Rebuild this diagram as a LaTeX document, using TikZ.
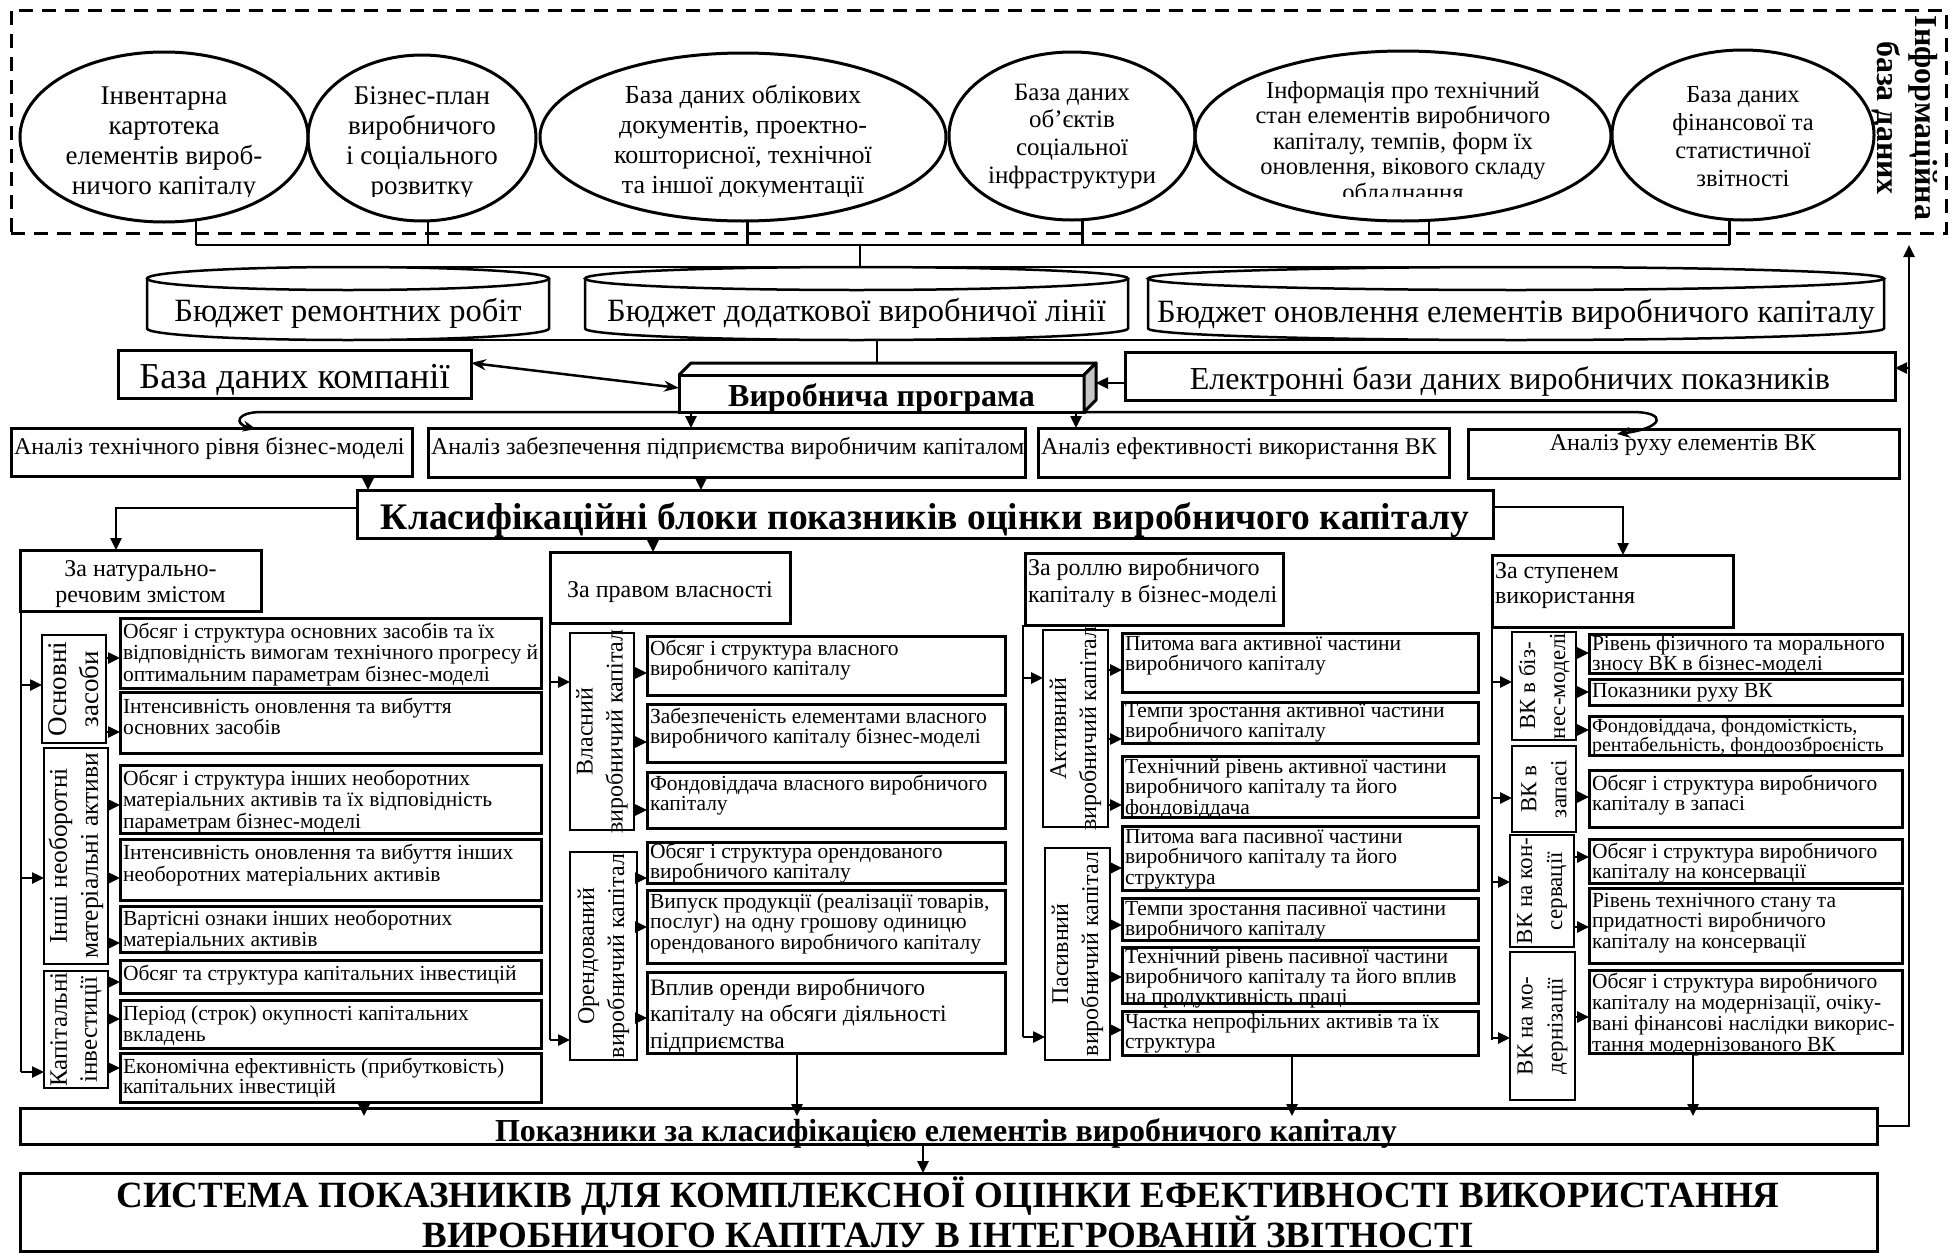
\documentclass[tikz,border=0pt]{standalone}
\usepackage{fontspec}
\setmainfont{Liberation Serif}
\usetikzlibrary{arrows.meta,shapes.geometric,calc}
\newcommand\fsz[2]{\fontsize{#1}{#2}\selectfont}
\tikzset{
 bx/.style={draw, line width=3pt, inner sep=0pt, outer sep=0pt},
 tbx/.style={draw, line width=1.6pt, inner sep=0pt, outer sep=0pt},
 ell/.style={ellipse, draw, line width=3pt, inner sep=0pt, outer sep=0pt},
 ln/.style={line width=2.5pt},
 arr/.style={line width=2.5pt, -{Triangle[length=12pt,width=11pt]}},
 txt/.style={inner sep=0pt, outer sep=0pt},
 vtxt/.style={inner sep=0pt, outer sep=0pt, rotate=90, align=center},
}
% style, name, x1, y1, x2, y2
\newcommand\rbx[6]{\node[#1, anchor=north west, minimum width={(#5-#3)*1pt}, minimum height={(#6-#4)*1pt}] (#2) at (#3,#4) {};}
% name, x1, y1, x2, y2, baseline offset, font size, leading, text
\newcommand\ibx[9]{\rbx{bx}{#1}{#2}{#3}{#4}{#5}\node[txt, anchor=base west] (#1t) at (#2+3,#3+#6) {\parbox[t]{700pt}{\raggedright\fsz{#7}{#8}#9}};}
% name, target point, start anchor
\newcommand\tarr[3]{\coordinate (#1) at (#2); \draw[arr] (#1 -| #3) -- (#1);}
\begin{document}
\begin{tikzpicture}[x=1pt,y=-1pt]
\path[use as bounding box, fill=white] (0,0) rectangle (1952,1253);

% ---------- information base ----------
\rbx{bx, dash pattern=on 14pt off 9pt}{infobox}{11}{10}{1946}{233}
\node[txt, rotate=-90, align=center, font=\bfseries\fsz{32}{38}] (info) at (1905,118) {Інформаційна\\база даних};

\node[ell, minimum width=288pt, minimum height=170pt] (E1) at (164,137) {};
\node[ell, minimum width=228pt, minimum height=166pt] (E2) at (422,138) {};
\node[ell, minimum width=406pt, minimum height=168pt] (E3) at (743,137) {};
\node[ell, minimum width=246pt, minimum height=168pt] (E4) at (1072,136) {};
\node[ell, minimum width=416pt, minimum height=170pt] (E5) at (1403,136) {};
\node[ell, minimum width=262pt, minimum height=170pt] (E6) at (1743,135) {};

\begin{scope}
\clip (0,0) rectangle (1952,196.5);
\node[txt, anchor=base] (E1t) at (164,104) {\parbox[t]{300pt}{\centering\fsz{27}{30}Інвентарна\\картотека\\елементів вироб-\\ничого капіталу}};
\node[txt, anchor=base] (E2t) at (422,104) {\parbox[t]{300pt}{\centering\fsz{27}{30}Бізнес-план\\виробничого\\і соціального\\розвитку}};
\node[txt, anchor=base] (E3t) at (743,103) {\parbox[t]{400pt}{\centering\fsz{26}{30}База даних облікових\\документів, проектно-\\кошторисної, технічної\\та іншої документації}};
\node[txt, anchor=base] (E4t) at (1072,100) {\parbox[t]{300pt}{\centering\fsz{25}{27.7}База даних\\об’єктів\\соціальної\\інфраструктури}};
\node[txt, anchor=base] (E5t) at (1403,98) {\parbox[t]{400pt}{\centering\fsz{24.5}{25.5}Інформація про технічний\\стан елементів виробничого\\капіталу, темпів, форм їх\\оновлення, вікового складу\\обладнання}};
\node[txt, anchor=base] (E6t) at (1743,102) {\parbox[t]{300pt}{\centering\fsz{24.5}{28.3}База даних\\фінансової та\\статистичної\\звітності}};
\end{scope}

% ---------- budgets (cylinders) ----------
\draw[ln] (147,278.5) -- (147,328.5) arc[start angle=180,end angle=0,x radius=201,y radius=11.5] -- (549,278.5);
\draw[ln] (348,278.5) ellipse[x radius=201, y radius=11.5];
\draw[ln] (585,278.5) -- (585,328.5) arc[start angle=180,end angle=0,x radius=271.5,y radius=11.5] -- (1128,278.5);
\draw[ln] (856.5,278.5) ellipse[x radius=271.5, y radius=11.5];
\draw[ln] (1148,278.5) -- (1148,328.5) arc[start angle=180,end angle=0,x radius=368,y radius=11.5] -- (1884,278.5);
\draw[ln] (1516,278.5) ellipse[x radius=368, y radius=11.5];
\node[txt, anchor=base, font=\fsz{32.5}{36}] (C1) at (348,321) {Бюджет ремонтних робіт};
\node[txt, anchor=base, font=\fsz{32.5}{36}] (C2) at (856.5,321) {Бюджет додаткової виробничої лінії};
\node[txt, anchor=base, font=\fsz{32.5}{36}] (C3) at (1516,322) {Бюджет оновлення елементів виробничого капіталу};
\coordinate (C1t) at (348,267); \coordinate (C1b) at (348,340);
\coordinate (C2t) at (860,267);
\coordinate (C3t) at (1516,267); \coordinate (C3b) at (1516,340);

% ---------- databases & production programme ----------
\rbx{bx}{bdk}{118}{350}{471}{398}
\node[txt, anchor=base, font=\fsz{36.5}{40}] (bdkt) at (294.5,388) {База даних компанії};
\rbx{bx}{el}{1125}{352}{1895}{400}
\node[txt, anchor=base, font=\fsz{32}{36}] (elt) at (1510,389) {Електронні бази даних виробничих показників};

\rbx{bx}{prog}{679}{375}{1084}{412}
\draw[line width=3pt, line join=round] (prog.north west) -- (691,363) -- (1096,363) -- (prog.north east);
\filldraw[fill=gray!45, line width=3pt, line join=round] (prog.north east) -- (1096,363) -- (1096,400) -- (prog.south east) -- cycle;
\node[txt, anchor=base, font=\bfseries\fsz{32}{36}] (progt) at (881.5,406) {Виробнича програма};
\coordinate (progtop) at (877,363);
\coordinate (progR) at (1096,383);

% ---------- analysis row ----------
\rbx{bx}{A1}{11}{428}{412}{476}
\node[txt, anchor=base west, font=\fsz{24}{26}] (A1t) at (14,454) {Аналіз технічного рівня бізнес-моделі};
\rbx{bx}{A2}{428}{428}{1025}{477}
\node[txt, anchor=base west, font=\fsz{24}{26}] (A2t) at (431,454) {Аналіз забезпечення підприємства виробничим капіталом};
\rbx{bx}{A3}{1038}{428}{1449}{477}
\node[txt, anchor=base west, font=\fsz{24}{26}] (A3t) at (1041,454) {Аналіз ефективності використання ВК};
\rbx{bx}{A4}{1468}{429}{1899}{478}
\node[txt, anchor=base, font=\fsz{24}{26}] (A4t) at (1683,450) {Аналіз руху елементів ВК};

\rbx{bx}{klas}{357}{490}{1493}{538}
\node[txt, anchor=base, font=\bfseries\fsz{37.5}{40}] (klast) at (925,529) {Класифікаційні блоки показників оцінки виробничого капіталу};

% ---------- column headers ----------
\rbx{bx}{H1}{20}{550}{261}{611}
\node[txt, anchor=base] (H1t) at (140.5,576) {\parbox[t]{240pt}{\centering\fsz{24}{26}За натурально-\\речовим змістом}};
\rbx{bx}{H2}{550}{552}{790}{623}
\node[txt, anchor=base, font=\fsz{24}{26}] (H2t) at (670,597) {За правом власності};
\rbx{bx}{H3}{1025}{553}{1283}{625}
\node[txt, anchor=base west] (H3t) at (1028,575) {\parbox[t]{300pt}{\raggedright\fsz{24}{27}За роллю виробничого\\капіталу в бізнес-моделі}};
\rbx{bx}{H4}{1492}{555}{1733}{627}
\node[txt, anchor=base west] (H4t) at (1495,578) {\parbox[t]{300pt}{\raggedright\fsz{24}{25.5}За ступенем\\використання}};

% ---------- category boxes ----------
\rbx{tbx}{osn}{42}{635}{106}{743}
\node[vtxt, font=\fsz{27}{32}] (osnt) at (74,689) {Основні\\засоби};
\rbx{tbx}{inshi}{44}{748}{108}{964}
\node[vtxt, font=\fsz{25.5}{31}] (inshit) at (76,856) {Інші необоротні\\матеріальні активи};
\rbx{tbx}{kap}{44}{971}{108}{1088}
\node[vtxt, font=\fsz{25}{30}] (kapt) at (76,1029.5) {Капітальні\\інвестиції};
\rbx{tbx}{vl}{570}{633}{634}{830}
\node[vtxt, font=\fsz{24}{30}] (vlt) at (602,731.5) {Власний\\виробничий капітал};
\rbx{tbx}{or}{570}{852}{637}{1060}
\node[vtxt, font=\fsz{24}{30}] (ort) at (603.5,956) {Орендований\\виробничий капітал};
\rbx{tbx}{akt}{1043}{630}{1108}{827}
\node[vtxt, font=\fsz{24}{30}] (aktt) at (1075.5,728.5) {Активний\\виробничий капітал};
\rbx{tbx}{pas}{1045}{848}{1110}{1060}
\node[vtxt, font=\fsz{24}{30}] (past) at (1077.5,954) {Пасивний\\виробничий капітал};
\rbx{tbx}{vkb}{1512}{632}{1576}{740}
\node[vtxt, font=\fsz{23}{30}] (vkbt) at (1544,686) {ВК в біз-\\нес-моделі};
\rbx{tbx}{vkz}{1512}{746}{1576}{832}
\node[vtxt, font=\fsz{23}{30}] (vkzt) at (1544,789) {ВК в\\запасі};
\rbx{tbx}{vkk}{1510}{835}{1574}{947}
\node[vtxt, font=\fsz{23}{30}] (vkkt) at (1542,891) {ВК на кон-\\сервації};
\rbx{tbx}{vkm}{1510}{952}{1575}{1100}
\node[vtxt, font=\fsz{23}{30}] (vkmt) at (1542.5,1026) {ВК на мо-\\дернізації};

% ---------- indicator boxes ----------
\ibx{a1}{120}{618}{541}{688}{20}{21.5}{21.7}{Обсяг і структура основних засобів та їх\\відповідність вимогам технічного прогресу й\\оптимальним параметрам бізнес-моделі}
\ibx{a2}{120}{692}{541}{753}{21}{21.5}{21.7}{Інтенсивність оновлення та вибуття\\основних засобів}
\ibx{a3}{120}{765}{541}{833}{20}{21.5}{21.7}{Обсяг і структура інших необоротних\\матеріальних активів та їх відповідність\\параметрам бізнес-моделі}
\ibx{a4}{120}{839}{541}{900}{20}{21.5}{22}{Інтенсивність оновлення та вибуття інших\\необоротних матеріальних активів}
\ibx{a5}{120}{906}{541}{952}{19}{21.5}{21}{Вартісні ознаки інших необоротних\\матеріальних активів}
\ibx{a6}{120}{960}{541}{993}{20}{21.5}{21}{Обсяг та структура капітальних інвестицій}
\ibx{a7}{120}{1000}{541}{1048}{20}{21.5}{21}{Період (строк) окупності капітальних\\вкладень}
\ibx{a8}{120}{1053}{541}{1102}{20}{21.5}{20}{Економічна ефективність (прибутковість)\\капітальних інвестицій}

\ibx{b1}{647}{636}{1005}{695}{19}{21.5}{20.7}{Обсяг і структура власного\\виробничого капіталу}
\ibx{b2}{647}{704}{1005}{762}{19}{21.5}{20.7}{Забезпеченість елементами власного\\виробничого капіталу бізнес-моделі}
\ibx{b3}{647}{772}{1005}{828}{18}{21.5}{20.7}{Фондовіддача власного виробничого\\капіталу}
\ibx{b4}{647}{842}{1005}{883}{16}{21.5}{20.7}{Обсяг і структура орендованого\\виробничого капіталу}
\ibx{b5}{647}{890}{1005}{963}{18}{21.5}{20.7}{Випуск продукції (реалізації товарів,\\послуг) на одну грошову одиницю\\орендованого виробничого капіталу}
\ibx{b6}{647}{972}{1005}{1053}{23}{23.5}{26.5}{Вплив оренди виробничого\\капіталу на обсяги діяльності\\підприємства}

\ibx{c1}{1122}{633}{1478}{692}{17}{21.5}{20.7}{Питома вага активної частини\\виробничого капіталу}
\ibx{c2}{1122}{702}{1478}{743}{15}{21.5}{20.7}{Темпи зростання активної частини\\виробничого капіталу}
\ibx{c3}{1122}{756}{1478}{817}{17}{21.5}{20.7}{Технічний рівень активної частини\\виробничого капіталу та його\\фондовіддача}
\ibx{c4}{1122}{826}{1478}{890}{17}{21.5}{20.7}{Питома вага пасивної частини\\виробничого капіталу та його\\структура}
\ibx{c5}{1122}{898}{1478}{940}{17}{21.5}{20.7}{Темпи зростання пасивної частини\\виробничого капіталу}
\ibx{c6}{1122}{947}{1478}{1003}{16}{21.5}{19.5}{Технічний рівень пасивної частини\\виробничого капіталу та його вплив\\на продуктивність праці}
\ibx{c7}{1122}{1011}{1478}{1055}{17}{21.5}{20.7}{Частка непрофільних активів та їх\\структура}

\ibx{d1}{1589}{634}{1902}{673}{16}{21.5}{18}{Рівень фізичного та морального\\зносу ВК в бізнес-моделі}
\ibx{d2}{1589}{679}{1902}{705}{18}{21.5}{20}{Показники руху ВК}
\ibx{d3}{1589}{716}{1902}{755}{16}{20}{18.3}{Фондовіддача, фондомісткість,\\рентабельність, фондоозброєність}
\ibx{d4}{1589}{770}{1902}{827}{20}{21.5}{20.7}{Обсяг і структура виробничого\\капіталу в запасі}
\ibx{d5}{1589}{839}{1902}{883}{19}{21.5}{20}{Обсяг і структура виробничого\\капіталу на консервації}
\ibx{d6}{1589}{888}{1902}{963}{19}{21.5}{20.7}{Рівень технічного стану та\\придатності виробничого\\капіталу на консервації}
\ibx{d7}{1589}{970}{1902}{1053}{18}{21.5}{21}{Обсяг і структура виробничого\\капіталу на модернізації, очіку-\\вані фінансові наслідки викорис-\\тання модернізованого ВК}

% ---------- bottom boxes ----------
\rbx{bx}{pok}{20}{1108}{1877}{1144}
\node[txt, anchor=base, font=\bfseries\fsz{32}{36}] (pokt) at (946,1141) {Показники за класифікацією елементів виробничого капіталу};
\rbx{bx}{sys}{20}{1173}{1877}{1251}
\node[txt, anchor=base] (syst) at (948,1207) {\parbox[t]{1850pt}{\centering\bfseries\fsz{37}{36}СИСТЕМА ПОКАЗНИКІВ ДЛЯ КОМПЛЕКСНОЇ ОЦІНКИ ЕФЕКТИВНОСТІ ВИКОРИСТАННЯ\\ВИРОБНИЧОГО КАПІТАЛУ В ІНТЕГРОВАНІЙ ЗВІТНОСТІ}};

% ---------- connectors: top ----------
\coordinate (busy) at (0,245);
\draw[ln] (E1.291) -- (E1.291 |- busy);
\draw[ln] (E2.274) -- (E2.274 |- busy);
\draw[ln] (E3.273) -- (E3.273 |- busy);
\draw[ln] (E4.277) -- (E4.277 |- busy);
\draw[ln] (E5.287) -- (E5.287 |- busy);
\draw[ln] (E6.261) -- (E6.261 |- busy);
\draw[ln] (E1.291 |- busy) -- (E6.261 |- busy);
\draw[ln] (C2t |- busy) -- (C2t);
\draw[ln] (C1t) -- (C3t);
\draw[ln] (C1b) -- (C3b);
\draw[ln] (progtop |- C1b) -- (progtop);

\draw[ln, {Stealth[length=15pt,width=11pt]}-{Stealth[length=15pt,width=11pt]}] ($(bdk.north east)!0.27!(bdk.south east)$) -- ($(prog.north west)!0.35!(prog.south west)$);
\draw[arr] (progR -| el.west) -- (progR);

\coordinate (cvL) at (256,429);
\draw[ln, -{Stealth[length=13pt,width=11pt]}] (prog.south west) -- (262,412) .. controls (236,412) and (234,424) .. (cvL);
\coordinate (cvR) at (1617,434);
\draw[ln, -{Stealth[length=13pt,width=11pt]}] (prog.south east) -- (1632,412) .. controls (1668,412) and (1664,428) .. (cvR);

\coordinate (pa1) at (691,412); \draw[arr] (pa1) -- (pa1 |- A2.north);
\coordinate (pa2) at (1076,412); \draw[arr] (pa2) -- (pa2 |- A3.north);
\coordinate (ka1) at (368,476); \draw[arr] (ka1) -- (ka1 |- klas.north);
\coordinate (ka2) at (701,477); \draw[arr] (ka2) -- (ka2 |- klas.north);

\coordinate (h1a) at (116,550); \draw[arr] ($(klas.north west)!0.37!(klas.south west)$) -| (h1a);
\coordinate (h2a) at (653,552); \draw[arr] (h2a |- klas.south) -- (h2a);
\coordinate (h4a) at (1623,555); \draw[arr] ($(klas.north east)!0.35!(klas.south east)$) -| (h4a);

% ---------- brackets ----------
\coordinate (br1) at (21,1072); \draw[ln] (br1 |- H1.south) -- (br1);
\tarr{q1}{42,685}{br1} \tarr{q2}{44,878}{br1} \tarr{q3}{44,1072}{br1}
\coordinate (br2) at (550,1040); \draw[ln] (br2 |- H2.south) -- (br2);
\tarr{q4}{570,682}{br2} \tarr{q5}{570,1040}{br2}
\coordinate (br3) at (1023,1037); \draw[ln] (br3 |- H3.south) -- (br3);
\tarr{q6}{1043,678}{br3} \tarr{q7}{1045,1037}{br3}
\coordinate (br4) at (1492,1040); \draw[ln] (br4 |- H4.south) -- (br4);
\tarr{q8}{1512,682}{br4} \tarr{q9}{1512,798}{br4} \tarr{q10}{1510,882}{br4} \tarr{q11}{1510,1038}{br4}

% ---------- category -> indicator ----------
\tarr{r1}{120,658}{osn.east} \tarr{r2}{120,732}{osn.east}
\tarr{r3}{120,805}{inshi.east} \tarr{r4}{120,878}{inshi.east} \tarr{r5}{120,943}{inshi.east}
\tarr{r6}{120,982}{kap.east} \tarr{r7}{120,1019}{kap.east} \tarr{r8}{120,1068}{kap.east}
\tarr{s1}{647,673}{vl.east} \tarr{s2}{647,742}{vl.east} \tarr{s3}{647,810}{vl.east}
\tarr{s4}{647,878}{or.east} \tarr{s5}{647,927}{or.east} \tarr{s6}{647,1018}{or.east}
\tarr{u1}{1122,670}{akt.east} \tarr{u2}{1122,739}{akt.east} \tarr{u3}{1122,805}{akt.east}
\tarr{u4}{1122,868}{pas.east} \tarr{u5}{1122,925}{pas.east} \tarr{u6}{1122,977}{pas.east} \tarr{u7}{1122,1030}{pas.east}
\tarr{v1}{1589,653}{vkb.east} \tarr{v2}{1589,692}{vkb.east} \tarr{v3}{1589,730}{vkb.east}
\tarr{v4}{1589,797}{vkz.east}
\tarr{v5}{1589,857}{vkk.east} \tarr{v6}{1589,927}{vkk.east}
\tarr{v7}{1589,1017}{vkm.east}

% ---------- bottom ----------
\coordinate (d1) at (364,1102); \draw[arr, shorten >=-8pt] (d1) -- (d1 |- pok.north);
\coordinate (d2) at (797,1053); \draw[arr, shorten >=-8pt] (d2) -- (d2 |- pok.north);
\coordinate (d3) at (1292,1055); \draw[arr, shorten >=-8pt] (d3) -- (d3 |- pok.north);
\coordinate (d4) at (1693,1053); \draw[arr, shorten >=-8pt] (d4) -- (d4 |- pok.north);

\coordinate (fbtop) at (1909,245);
\draw[arr] (pok.east) -| (fbtop);
\coordinate (fbel) at (1909,368); \draw[arr] (fbel) -- (fbel -| el.east);
\coordinate (pk) at (923,1144); \draw[arr] (pk) -- (pk |- sys.north);
\end{tikzpicture}
\end{document}
